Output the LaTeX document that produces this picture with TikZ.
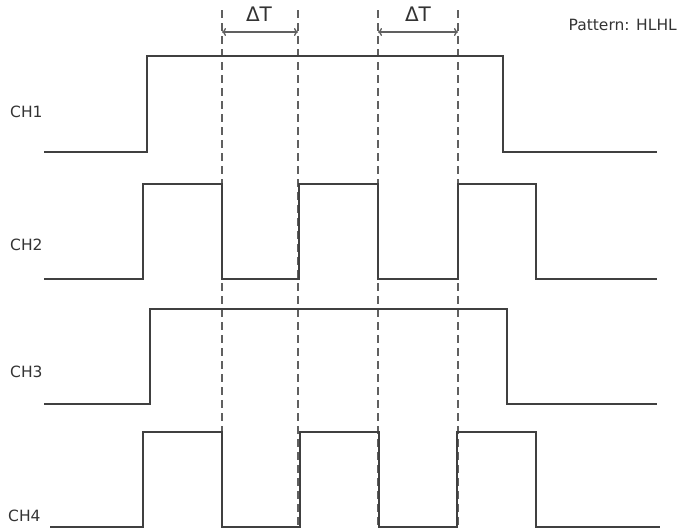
\documentclass[tikz,border=0pt]{standalone}
\usepackage{fontspec}
\setmainfont{DejaVu Sans}
\usetikzlibrary{arrows.meta}
\definecolor{sig}{HTML}{404040}
\definecolor{txt}{HTML}{333333}
\definecolor{dash}{HTML}{606060}
\tikzset{
  signal/.style={draw=sig, line width=1.3pt, line join=miter},
  guide/.style={draw=dash, line width=1.1pt, dash pattern=on 8pt off 5pt},
  span/.style={draw=dash, line width=1.3pt, {To[length=4pt,width=8pt]}-{To[length=4pt,width=8pt]}},
  lbl/.style={font=\fontsize{15.5}{18}\selectfont, text=txt, inner sep=0pt},
  dlbl/.style={font=\fontsize{20}{22}\selectfont, text=txt, inner sep=0pt},
}
\begin{document}
\begin{tikzpicture}[x=1pt,y=-1pt]
\useasboundingbox (0,0) rectangle (679,528);
% guides
\foreach \xx [count=\i] in {222,298,378,458} {
  \coordinate (gt\i) at (\xx,10);
  \coordinate (gb\i) at (\xx,528);
  \draw[guide] (gt\i) -- (gb\i);
}
\coordinate (a1) at (222,32); \coordinate (b1) at (298,32);
\coordinate (a2) at (378,32); \coordinate (b2) at (458,32);
\draw[span] (a1) -- (b1);
\draw[span] (a2) -- (b2);
\node[dlbl] (dt1) at (259,14) {ΔT};
\node[dlbl] (dt2) at (418,14) {ΔT};
\node[lbl, anchor=east] (pat) at (677,25) {Pattern: HLHL};
% CH1
\node[lbl, anchor=west] (ch1) at (10,112) {CH1};
\draw[signal] (44,152) -- (147,152) -- (147,56) -- (503,56) -- (503,152) -- (657,152);
% CH2
\node[lbl, anchor=west] (ch2) at (10,245) {CH2};
\draw[signal] (44,279) -- (143,279) -- (143,184) -- (222,184) -- (222,279) -- (299,279) -- (299,184) -- (378,184) -- (378,279) -- (458,279) -- (458,184) -- (536,184) -- (536,279) -- (657,279);
% CH3
\node[lbl, anchor=west] (ch3) at (10,372) {CH3};
\draw[signal] (44,404) -- (150,404) -- (150,309) -- (507,309) -- (507,404) -- (657,404);
% CH4
\node[lbl, anchor=west] (ch4) at (8,516) {CH4};
\draw[signal] (50,527) -- (143,527) -- (143,432) -- (222,432) -- (222,527) -- (300,527) -- (300,432) -- (379,432) -- (379,527) -- (457,527) -- (457,432) -- (536,432) -- (536,527) -- (660,527);
\end{tikzpicture}
\end{document}
